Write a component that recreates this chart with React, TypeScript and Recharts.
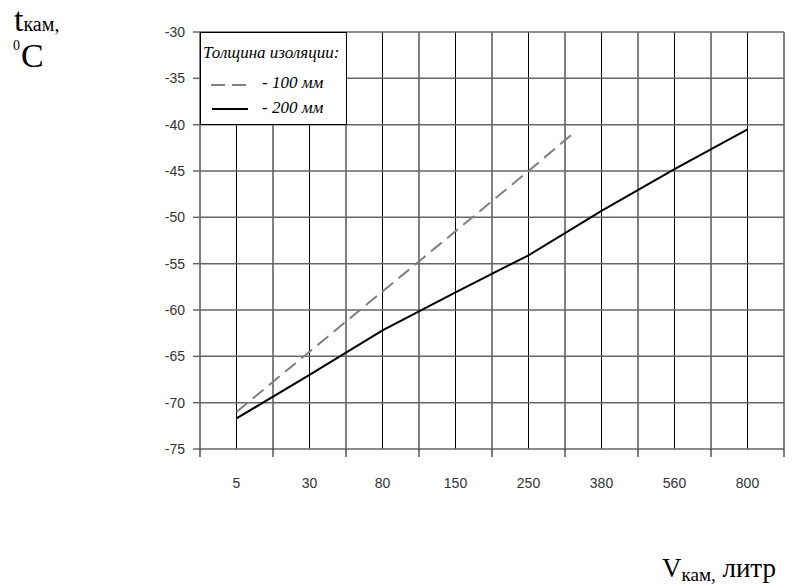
import { LineChart, Line, XAxis, YAxis, CartesianGrid, Legend } from 'recharts';

// chamber volume, litres (categorical, evenly spaced)
const volumes = ['5', '30', '80', '150', '250', '380', '560', '800'];
const tempTicks = [-75, -70, -65, -60, -55, -50, -45, -40, -35, -30];

// x is measured in category widths: 0.5 = centre of "5", 1.5 = centre of "30" ...
const ins100X = [0.5, 1.5, 2.5, 3.5, 4.5, 5.15];
const ins100T = [-71, -64.5, -58, -51.5, -45, -40.7];
const ins200X = [0.5, 1.5, 2.5, 3.5, 4.5, 5.5, 6.5, 7.5];
const ins200T = [-71.7, -67, -62.2, -58.1, -54.1, -49.3, -44.8, -40.5];

const data100 = ins100X.map((x, i) => ({ x, t: ins100T[i] }));
const data200 = ins200X.map((x, i) => ({ x, t: ins200T[i] }));
// boundaries and centres of each category
const xTicks = Array.from({ length: volumes.length * 2 + 1 }, (_, i) => i / 2);

const tickFont = { fontFamily: '"Liberation Sans", Arial, sans-serif', fontSize: 14, fill: '#333' };
const serif = '"Liberation Serif", "Times New Roman", serif';

function XTick(props: any) {
  const { x, y, payload } = props;
  const v = payload.value as number;
  if (Number.isInteger(v)) {
    return <line x1={x} x2={x} y1={y - 8} y2={y} stroke="#000" strokeWidth={1} />;
  }
  return (
    <text x={x} y={y + 31} textAnchor="middle" {...tickFont}>
      {volumes[Math.floor(v)]}
    </text>
  );
}

function LegendBox() {
  const txt = { position: 'absolute' as const, fontFamily: serif, fontStyle: 'italic', fontSize: 17, color: '#000', lineHeight: '18px', whiteSpace: 'nowrap' as const };
  return (
    <div style={{ position: 'relative', width: 147, height: 93, background: '#fff', border: '1px solid #000', boxSizing: 'border-box' }}>
      <div style={{ ...txt, left: 2, top: 11 }}>Толщина изоляции:</div>
      <svg width={147} height={93} style={{ position: 'absolute', left: 0, top: 0 }}>
        <line x1={10} x2={45} y1={52} y2={52} stroke="#7f7f7f" strokeWidth={2} strokeDasharray="14 7" />
        <line x1={11} x2={47} y1={76} y2={76} stroke="#000" strokeWidth={2} />
      </svg>
      <div style={{ ...txt, left: 61, top: 41 }}>- 100 мм</div>
      <div style={{ ...txt, left: 61, top: 66 }}>- 200 мм</div>
    </div>
  );
}

export default function App() {
  return (
    <div style={{ position: 'absolute', left: 0, top: 0, width: 797, height: 586, background: '#fff' }}>
      <LineChart width={797} height={586} margin={{ top: 32, right: 13, bottom: 97, left: 0 }}>
        <CartesianGrid horizontal={false} stroke="#000" strokeWidth={1} />
        <CartesianGrid vertical={false} stroke="#666" strokeWidth={1.5} />
        <XAxis
          dataKey="x"
          type="number"
          domain={[0, volumes.length]}
          ticks={xTicks}
          interval={0}
          height={40}
          tickSize={8}
          tickMargin={0}
          tickLine={false}
          axisLine={false}
          tick={<XTick />}
          allowDuplicatedCategory={false}
        />
        <YAxis
          type="number"
          domain={[-75, -30]}
          ticks={tempTicks}
          interval={0}
          width={200}
          tickSize={7}
          tickMargin={8}
          tickLine={{ stroke: '#666', strokeWidth: 1.5 }}
          axisLine={false}
          tick={tickFont}
        />
        <Legend
          layout="horizontal"
          verticalAlign="middle"
          content={<LegendBox />}
          wrapperStyle={{ position: 'absolute', left: 200, top: 32, width: 147, height: 93 }}
        />
        <Line
          data={data100}
          dataKey="t"
          name="100 мм"
          type="linear"
          stroke="#7f7f7f"
          strokeWidth={2}
          strokeDasharray="14 7"
          dot={false}
          isAnimationActive={false}
        />
        <Line
          data={data200}
          dataKey="t"
          name="200 мм"
          type="linear"
          stroke="#000"
          strokeWidth={2}
          dot={false}
          isAnimationActive={false}
        />
      </LineChart>
      <svg width={797} height={586} style={{ position: 'absolute', left: 0, top: 0, pointerEvents: 'none' }}>
        <text x={14} y={31} fontFamily={serif} fontSize={34}>
          t<tspan fontSize={20}>кам,</tspan>
        </text>
        <text x={13} y={50} fontFamily={serif} fontSize={14}>0</text>
        <text x={21} y={67} fontFamily={serif} fontSize={34}>C</text>
        <text x={662} y={577} fontFamily={serif} fontSize={27}>
          V<tspan fontSize={19} dy={4}>кам,</tspan>
          <tspan fontSize={27} dy={-4}> литр</tspan>
        </text>
      </svg>
    </div>
  );
}
